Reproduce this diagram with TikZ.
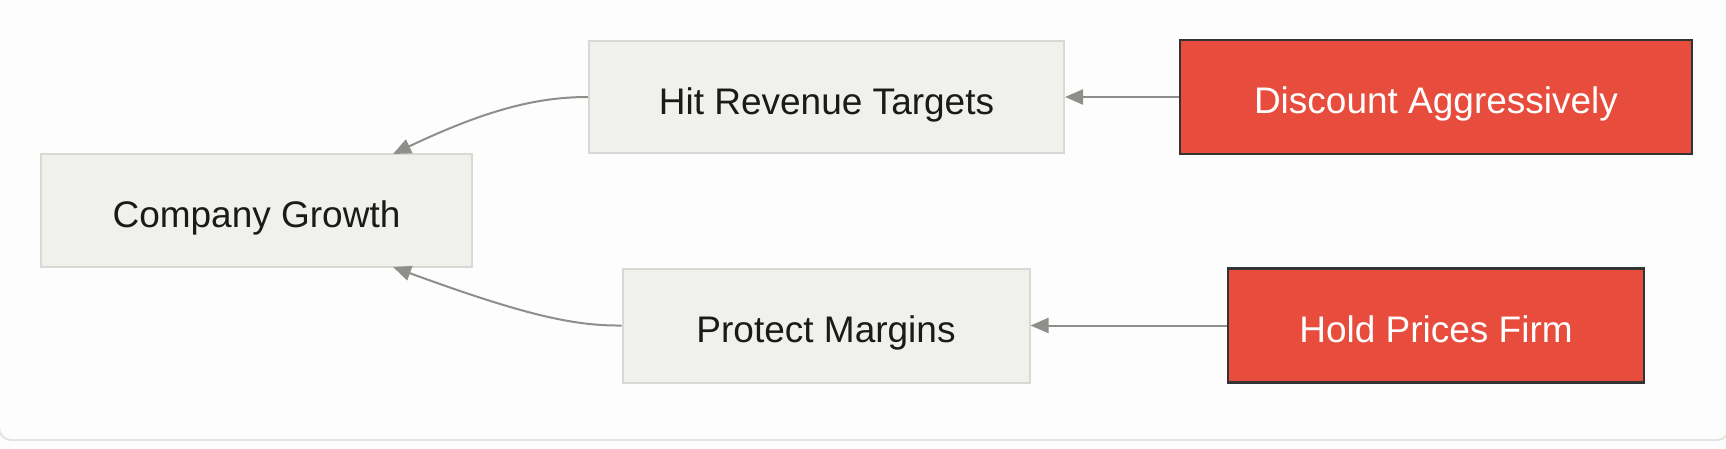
\documentclass[tikz,border=0pt]{standalone}
\usepackage{fontspec}
\setmainfont{Liberation Sans}
\usetikzlibrary{arrows.meta}
\definecolor{bgc}{HTML}{FDFDFD}
\definecolor{framec}{HTML}{E4E4E2}
\definecolor{grayfill}{HTML}{F0F0EC}
\definecolor{grayline}{HTML}{D8D8D4}
\definecolor{redfill}{HTML}{E74C3C}
\definecolor{redline}{HTML}{333333}
\definecolor{arrowc}{HTML}{8E8E8A}
\definecolor{textc}{HTML}{1A1A1A}
\tikzset{
  graybox/.style={draw=grayline, line width=2pt, fill=grayfill, inner sep=0pt,
    text=textc, font=\fontsize{37}{44}\selectfont, text height=34pt, text depth=0pt},
  redbox/.style={draw=redline, line width=2.5pt, fill=redfill, inner sep=0pt,
    text=white, font=\fontsize{37}{44}\selectfont, text height=33pt, text depth=0pt},
  conn/.style={draw=arrowc, line width=2pt, -{Triangle[length=18pt,width=15pt]}}
}
\begin{document}
\begin{tikzpicture}[x=1pt,y=-1pt]
\useasboundingbox (0,0) rectangle (1726,448);
\fill[bgc] (0,0) rectangle (1726,448);
\begin{scope}
\clip (0,0) rectangle (1726,448);
\draw[framec, line width=2pt, rounded corners=12pt] (-1,-30) rectangle (1729,440);
\end{scope}
\node[graybox, minimum width=431pt, minimum height=113pt] (cg) at (256.5,210.5) {Company Growth};
\node[graybox, minimum width=475pt, minimum height=112pt] (hr) at (826.5,97) {Hit Revenue Targets};
\node[redbox, minimum width=512pt, minimum height=114pt] (da) at (1436,97) {Discount Aggressively};
\node[graybox, minimum width=407pt, minimum height=114pt] (pm) at (826,325.5) {Protect Margins};
\node[redbox, minimum width=416pt, minimum height=114pt] (hp) at (1436,325.5) {Hold Prices Firm};
\coordinate (cgt) at (393,154);
\coordinate (cgb) at (393,267);
\draw[conn] (hr.west) .. controls (540,97) and (490,108) .. (cgt);
\draw[conn] (pm.west) .. controls (574,326) and (524,315) .. (cgb);
\draw[conn] (da.west) -- (hr.east);
\draw[conn] (hp.west) -- (pm.east);
\end{tikzpicture}
\end{document}
